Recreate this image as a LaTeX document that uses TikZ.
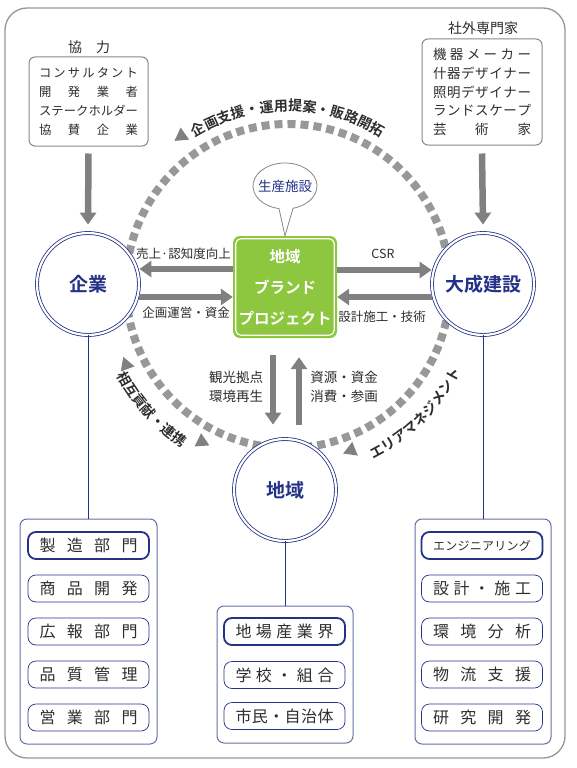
\documentclass[tikz,border=0pt]{standalone}
\usepackage{fontspec}
\setmainfont{Noto Sans CJK JP}[BoldFont={Noto Sans CJK JP Bold}]
\usetikzlibrary{arrows.meta,decorations.text,calc}

\definecolor{navy}{RGB}{35,50,135}
\definecolor{arrowgray}{RGB}{128,128,128}
\definecolor{dashgray}{RGB}{152,152,152}
\definecolor{framegray}{RGB}{150,150,150}
\definecolor{boxgray}{RGB}{135,135,135}
\definecolor{txt}{RGB}{45,45,45}
\definecolor{grpline}{RGB}{100,110,168}
\definecolor{brandgreen}{RGB}{141,198,63}

\makeatletter
\newcommand\spreadtext[2]{\makebox[#1]{\spr@first#2\relax}}
\def\spr@first#1{#1\spr@rest}
\def\spr@rest#1{\ifx#1\relax\else\hfill#1\expandafter\spr@rest\fi}
\makeatother

\newcommand\arcfont{\bfseries\fontsize{14}{14}\selectfont}

\begin{document}
\begin{tikzpicture}[x=1pt,y=1pt,
  bigarrow/.style={draw=arrowgray, line width=6.5pt, -{Triangle[width=16pt,length=12pt]}},
  dblcircle/.style={circle, minimum size=102pt, inner sep=0pt, fill=white, draw=navy,
    double=white, double distance=2.2pt, line width=0.8pt, text=navy,
    font=\bfseries\fontsize{19}{19}\selectfont},
  topbox/.style={draw=boxgray, line width=1pt, rounded corners=6pt, fill=white, text=txt, align=center, inner sep=0pt},
  grpbox/.style={draw=grpline, line width=1pt, rounded corners=7pt, inner sep=0pt},
  item/.style={draw=navy, line width=0.7pt, rounded corners=8pt, minimum width=121pt, minimum height=27pt,
    inner sep=0pt, text=txt, font=\fontsize{16}{16}\selectfont},
  itemfirst/.style={item, line width=1.8pt},
  lbl/.style={inner sep=0pt, text=txt, font=\fontsize{12.5}{15}\selectfont},
  lbltwo/.style={inner sep=0pt, text=txt, align=left, font=\fontsize{13.5}{18.5}\selectfont},
  navyline/.style={draw=navy, line width=0.8pt},
  tri/.style={fill=arrowgray}
]
\useasboundingbox (0,0) rectangle (576,-768);

% outer frame
\draw[framegray, line width=1.3pt, rounded corners=22pt] (5,-8) rectangle (565,-758);

% big dashed circle
\coordinate (C) at (288,-286);
\draw[dashgray, line width=8pt, dash pattern=on 8pt off 5pt] (C) circle[radius=162];

% arc texts
\path[decorate, decoration={text along path, text align=center, text color=txt,
  text={|\arcfont|企画支援・運用提案・販路開拓}}]
  ($(C)+(140:175)$) arc[start angle=140, end angle=40, radius=175];
\path[decorate, decoration={text along path, text align=center, text color=txt,
  text={|\arcfont|相互貢献・連携}}]
  ($(C)+(195:193)$) arc[start angle=195, end angle=249, radius=193];
\path[decorate, decoration={text along path, text align=center, text color=txt,
  text={|\arcfont|エリアマネジメント}}]
  ($(C)+(288:193)$) arc[start angle=288, end angle=342, radius=193];

% triangles on the arc
\fill[tri, shift={(C)}, shift={(125.4:184)}, rotate=215] (0:8.5) -- (120:8.5) -- (240:8.5) -- cycle;
\fill[tri, shift={(C)}, shift={(206:180)}, rotate=110] (0:8.5) -- (120:8.5) -- (240:8.5) -- cycle;
\fill[tri, shift={(C)}, shift={(241:178)}, rotate=334] (0:8.5) -- (120:8.5) -- (240:8.5) -- cycle;
\fill[tri, shift={(C)}, shift={(291:176)}, rotate=202] (0:8.5) -- (120:8.5) -- (240:8.5) -- cycle;

% top boxes
\node[inner sep=0pt, text=txt, font=\fontsize{14}{14}\selectfont] (kyoryokulbl) at (89,-47) {\spreadtext{42pt}{協力}};
\node[topbox, minimum width=119pt, minimum height=89pt, font=\fontsize{12.3}{18.7}\selectfont] (kyoryoku) at (88.5,-101.5)
  {\spreadtext{99pt}{コンサルタント}\\\spreadtext{99pt}{開発業者}\\\spreadtext{99pt}{ステークホルダー}\\\spreadtext{99pt}{協賛企業}};
\node[inner sep=0pt, text=txt, font=\fontsize{14}{14}\selectfont] (gaibulbl) at (483,-28) {社外専門家};
\node[topbox, minimum width=120pt, minimum height=106pt, font=\fontsize{13.5}{18.7}\selectfont] (gaibu) at (482,-92)
  {\spreadtext{98pt}{機器メーカー}\\\spreadtext{98pt}{什器デザイナー}\\\spreadtext{98pt}{照明デザイナー}\\\spreadtext{98pt}{ランドスケープ}\\\spreadtext{98pt}{芸術家}};

% circles
\node[dblcircle] (kigyo) at (88,-284) {企業};
\node[dblcircle] (taisei) at (483,-284) {大成建設};
\node[dblcircle] (chiiki) at (285,-490) {地域};

% arrows from top boxes
\draw[bigarrow] ([yshift=-7pt]kyoryoku.south) -- ([yshift=8pt]kigyo.north);
\draw[bigarrow] ([yshift=-8pt]gaibu.south) -- ([yshift=8pt]taisei.north);

% brand box
\node[fill=brandgreen, rounded corners=7pt, minimum width=104pt, minimum height=102pt, inner sep=0pt,
  text=white, align=center, font=\bfseries\fontsize{15.5}{31}\selectfont] (brand) at (285,-287)
  {地域\\ブランド\\プロジェクト};
\draw[white, line width=1.2pt, rounded corners=5pt] ([shift={(3,3)}]brand.south west) rectangle ([shift={(-3,-3)}]brand.north east);

% speech bubble
\draw[draw=boxgray, line width=0.8pt, fill=white] (285,-186) ++(-75.5:32 and 23)
  arc[start angle=-75.5, end angle=259.2, x radius=32, y radius=23] -- (brand.north) -- cycle;
\node[inner sep=0pt, text=navy, font=\fontsize{13.5}{13.5}\selectfont] (bubble) at (285,-186) {生産施設};

% horizontal arrows
\draw[bigarrow] ([yshift=18pt]brand.west) -- ([yshift=18pt]brand.west -| kigyo.east);
\draw[bigarrow] ([yshift=-10pt]brand.west -| kigyo.east) -- ([yshift=-10pt]brand.west);
\draw[bigarrow] ([yshift=17pt]brand.east) -- ([yshift=17pt]brand.east -| taisei.west);
\draw[bigarrow] ([yshift=-10pt]brand.east -| taisei.west) -- ([yshift=-10pt]brand.east);

% vertical arrows
\draw[bigarrow] ([xshift=-12pt,yshift=-17pt]brand.south) -- ([xshift=-12pt,yshift=14pt]chiiki.north);
\draw[bigarrow] ([xshift=14pt,yshift=14pt]chiiki.north) -- ([xshift=14pt,yshift=-19pt]brand.south);

% labels
\node[lbl] (luri) at (183.5,-254) {売上·認知度向上};
\node[lbl] (lkikaku) at (186,-313) {企画運営・資金};
\node[lbl] (lcsr) at (383,-254) {CSR};
\node[lbl] (lsekkei) at (382,-317) {設計施工・技術};
\node[lbltwo] (lkanko) at (236,-387) {観光拠点\\環境再生};
\node[lbltwo] (lshigen) at (344,-387) {資源・資金\\消費・参画};

% groups
\node[grpbox, minimum width=137pt, minimum height=225pt] (leftgrp) at (88.5,-631.5) {};
\node[grpbox, minimum width=136pt, minimum height=137pt] (midgrp) at (285,-674.5) {};
\node[grpbox, minimum width=136pt, minimum height=225pt] (rightgrp) at (483,-631.5) {};

\draw[navyline] (kigyo.south) -- (kigyo.south |- leftgrp.north);
\draw[navyline] (chiiki.south) -- (chiiki.south |- midgrp.north);
\draw[navyline] (taisei.south) -- (taisei.south |- rightgrp.north);

% left items
\node[itemfirst] (a1) at (88.5,-545.5) {\spreadtext{98pt}{製造部門}};
\node[item] (a2) at (88.5,-588.5) {\spreadtext{98pt}{商品開発}};
\node[item] (a3) at (88.5,-631.5) {\spreadtext{98pt}{広報部門}};
\node[item] (a4) at (88.5,-674.5) {\spreadtext{98pt}{品質管理}};
\node[item] (a5) at (88.5,-717.5) {\spreadtext{98pt}{営業部門}};

% middle items
\node[itemfirst] (b1) at (284.5,-631.5) {\spreadtext{98pt}{地場産業界}};
\node[item] (b2) at (284.5,-675) {\spreadtext{98pt}{学校・組合}};
\node[item] (b3) at (284.5,-716) {\spreadtext{98pt}{市民・自治体}};

% right items
\node[itemfirst, font=\fontsize{12}{12}\selectfont] (c1) at (482,-545.5) {\spreadtext{98pt}{エンジニアリング}};
\node[item] (c2) at (482,-588.5) {\spreadtext{98pt}{設計・施工}};
\node[item] (c3) at (482,-631.5) {\spreadtext{98pt}{環境分析}};
\node[item] (c4) at (482,-674.5) {\spreadtext{98pt}{物流支援}};
\node[item] (c5) at (482,-717.5) {\spreadtext{98pt}{研究開発}};

\end{tikzpicture}
\end{document}
